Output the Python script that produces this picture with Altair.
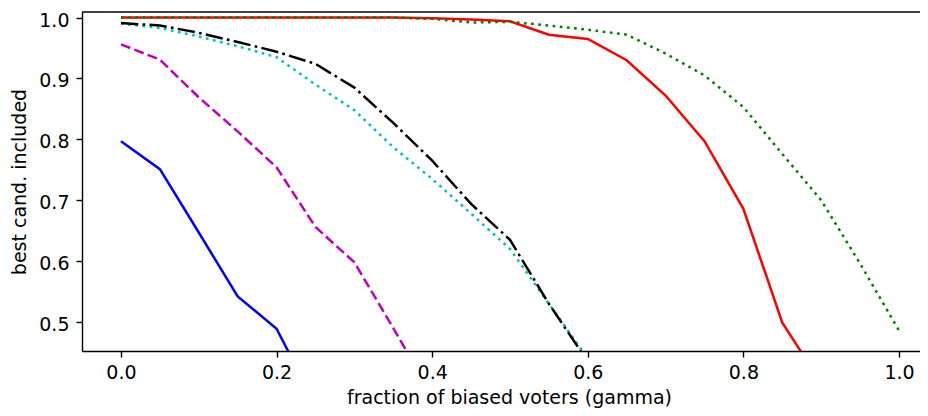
import altair as alt
import pandas as pd

# x positions (fraction of biased voters)
gamma = [0.00, 0.05, 0.10, 0.15, 0.20, 0.25, 0.30, 0.35, 0.40, 0.45, 0.50,
         0.55, 0.60, 0.65, 0.70, 0.75, 0.80, 0.85, 0.90, 0.95, 1.00]

# series values (lines run off the bottom of the axes)
blue_solid = [0.797, 0.751, 0.647, 0.542, 0.489, 0.365]
magenta_dashed = [0.956, 0.931, 0.869, 0.813, 0.754, 0.656, 0.598, 0.490, 0.380]
cyan_dotted = [0.990, 0.983, 0.969, 0.953, 0.935, 0.890, 0.848, 0.787, 0.735,
               0.678, 0.620, 0.530, 0.440]
black_dashdot = [0.991, 0.987, 0.975, 0.960, 0.944, 0.924, 0.885, 0.827, 0.765,
                 0.694, 0.635, 0.530, 0.435]
red_solid = [1.000, 1.000, 1.000, 1.000, 1.000, 1.000, 1.000, 1.000, 0.999,
             0.997, 0.994, 0.972, 0.965, 0.930, 0.872, 0.797, 0.686, 0.499, 0.400]
green_dotted = [1.000, 1.000, 1.000, 1.000, 1.000, 1.000, 1.000, 1.000, 0.998,
                0.992, 0.993, 0.987, 0.980, 0.972, 0.941, 0.905, 0.853, 0.776,
                0.700, 0.596, 0.486]

x_ticks = [0.0, 0.2, 0.4, 0.6, 0.8, 1.0]
y_ticks = [0.5, 0.6, 0.7, 0.8, 0.9, 1.0]

W, H = 838, 339
FONT = "DejaVu Sans"
FS = 19

x_enc = alt.X(
    "gamma:Q",
    scale=alt.Scale(domain=[-0.0501, 1.027], nice=False, zero=False),
    axis=alt.Axis(
        values=x_ticks, format=".1f", title="fraction of biased voters (gamma)",
        grid=False, tickSize=6, tickWidth=1.4, tickColor="black",
        domainColor="black", domainWidth=1.4,
        labelFont=FONT, labelFontSize=FS, labelColor="black",
        labelBaseline="alphabetic", labelPadding=21, labelFlush=False,
        titleFont=FONT, titleFontSize=FS, titleFontWeight="normal",
        titleColor="black", titleX=427, titleY=52, titleAlign="center",
        titleBaseline="alphabetic",
    ),
)
y_enc = alt.Y(
    "value:Q",
    scale=alt.Scale(domain=[0.4524, 1.0092], nice=False, zero=False),
    axis=alt.Axis(
        values=y_ticks, format=".1f", title="best cand. included",
        grid=False, tickSize=6, tickWidth=1.4, tickColor="black",
        domainColor="black", domainWidth=1.4,
        labelFont=FONT, labelFontSize=FS, labelColor="black",
        labelBaseline="alphabetic", labelOffset=8.5, labelPadding=7,
        labelFlush=False,
        titleFont=FONT, titleFontSize=FS, titleFontWeight="normal",
        titleColor="black", titleX=-57, titleY=H / 2, titleAngle=270,
        titleAlign="center", titleBaseline="alphabetic",
    ),
)


def line(vals, color, dash=None):
    df = pd.DataFrame({"gamma": gamma[:len(vals)], "value": vals})
    kw = dict(color=color, strokeWidth=2.5, strokeCap="butt", clip=True)
    if dash is not None:
        kw["strokeDash"] = dash
    return alt.Chart(df).mark_line(**kw).encode(x=x_enc, y=y_enc)


layers = [
    line(blue_solid, "#0000ff"),
    line(magenta_dashed, "#bf00bf", [10, 4.3]),
    line(cyan_dotted, "#00bfbf", [2.7, 4.5]),
    line(black_dashdot, "#000000", [17.3, 4.3, 2.7, 4.3]),
    line(red_solid, "#ff0000"),
    line(green_dotted, "#008000", [2.7, 4.5]),
]

top_border = alt.Chart(pd.DataFrame({"k": [0]})).mark_rule(
    color="black", strokeWidth=1.4
).encode(x=alt.value(0), x2=alt.value(W), y=alt.value(0))

chart = alt.layer(*layers, top_border).properties(
    width=W, height=H,
    autosize=alt.AutoSizeParams(type="none"),
    padding={"left": 74, "top": 4, "right": 0, "bottom": 57},
    background="white",
).configure_view(stroke="transparent")

chart.save("out.html", embed_options={"renderer": "svg", "actions": False})
